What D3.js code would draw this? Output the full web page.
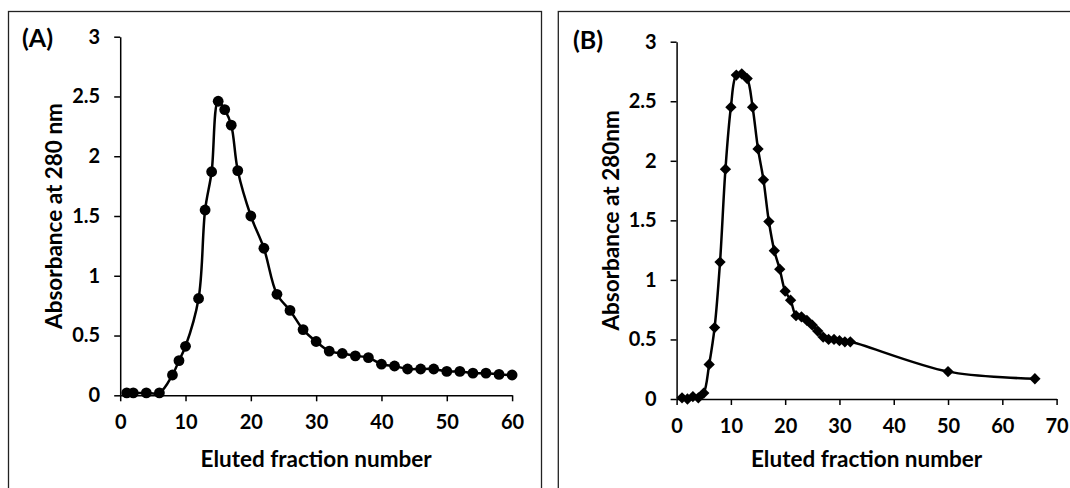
<!DOCTYPE html>
<html>
<head>
<meta charset="utf-8">
<script src="https://cdn.jsdelivr.net/npm/d3@7"></script>
<style>
  html, body { margin: 0; padding: 0; background: #fff; }
  svg text { font-family: Lato, "Open Sans", sans-serif; font-weight: bold; fill: #000; }
</style>
</head>
<body>
<div id="chart"></div>
<script>
// panel A data: fraction number vs absorbance
const fractionsA = [1, 2, 4, 6, 8, 9, 10, 12, 13, 14, 15, 16, 17, 18, 20, 22, 24, 26, 28, 30,
  32, 34, 36, 38, 40, 42, 44, 46, 48, 50, 52, 54, 56, 58, 60];
const absorbA = [0.02, 0.02, 0.02, 0.02, 0.17, 0.29, 0.41, 0.81, 1.55, 1.87, 2.46, 2.39, 2.26, 1.88, 1.5, 1.23, 0.845, 0.71, 0.55, 0.45,
  0.37, 0.35, 0.33, 0.315, 0.26, 0.245, 0.22, 0.22, 0.22, 0.2, 0.2, 0.185, 0.185, 0.175, 0.17];

// panel B data
const fractionsB = [1, 2, 3, 4, 5, 6, 7, 8, 9, 10, 11, 12, 13, 14, 15, 16, 17, 18, 19, 20,
  21, 22, 23, 24, 25, 26, 27, 28, 29, 30, 31, 32, 50, 66];
const absorbB = [0.01, 0.0, 0.02, 0.01, 0.05, 0.29, 0.6, 1.15, 1.93, 2.45, 2.72, 2.73, 2.69, 2.45, 2.1, 1.84, 1.49, 1.245, 1.09, 0.905,
  0.83, 0.7, 0.69, 0.66, 0.62, 0.57, 0.52, 0.5, 0.5, 0.49, 0.48, 0.48, 0.23, 0.17];

const yTicks = [0, 0.5, 1, 1.5, 2, 2.5, 3];
const xTicksA = [0, 10, 20, 30, 40, 50, 60];
const xTicksB = [0, 10, 20, 30, 40, 50, 60, 70];

const svg = d3.select("#chart").append("svg")
  .attr("width", 1070)
  .attr("height", 488);

function drawPanel(cfg) {
  // panel frame (bottom edge falls outside the picture)
  svg.append("rect")
    .attr("x", cfg.frame[0]).attr("y", cfg.frame[1])
    .attr("width", cfg.frame[2]).attr("height", cfg.frame[3])
    .attr("fill", "none")
    .attr("stroke", "#222")
    .attr("stroke-width", 1.3);

  const x = d3.scaleLinear().domain([0, cfg.xMax]).range([cfg.left, cfg.right]);
  const y = d3.scaleLinear().domain([0, 3]).range([cfg.bottom, cfg.top]);

  const gx = svg.append("g")
    .attr("transform", `translate(0,${cfg.bottom})`)
    .call(d3.axisBottom(x).tickValues(cfg.xTicks).tickSize(6).tickSizeOuter(0).tickFormat(d3.format("d")));
  gx.selectAll("text").attr("y", 20).style("font-size", "20px");

  const gy = svg.append("g")
    .attr("transform", `translate(${cfg.left},0)`)
    .call(d3.axisLeft(y).tickValues(yTicks).tickSize(6).tickSizeOuter(0).tickFormat(d => String(d)));
  gy.selectAll("text").attr("x", -20).style("font-size", "20px");

  [gx, gy].forEach(g => {
    g.select(".domain").attr("stroke", "#000").attr("stroke-width", 1.5);
    g.selectAll(".tick line").attr("stroke", "#000").attr("stroke-width", 1.5);
    g.attr("font-family", null).attr("font-size", null);
  });

  const pts = cfg.xs.map((d, i) => [d, cfg.ys[i]]);

  const line = d3.line()
    .x(d => x(d[0]))
    .y(d => y(d[1]))
    .curve(d3.curveCatmullRom.alpha(0.5));

  svg.append("path")
    .datum(pts)
    .attr("d", line)
    .attr("fill", "none")
    .attr("stroke", "#000")
    .attr("stroke-width", 2.5);

  if (cfg.marker === "circle") {
    svg.append("g").selectAll("circle")
      .data(pts).enter().append("circle")
      .attr("cx", d => x(d[0]))
      .attr("cy", d => y(d[1]))
      .attr("r", 5.4)
      .attr("fill", "#000");
  } else {
    const diamond = d3.symbol().type(d3.symbolSquare).size(64);
    svg.append("g").selectAll("path")
      .data(pts).enter().append("path")
      .attr("d", diamond)
      .attr("transform", d => `translate(${x(d[0])},${y(d[1])}) rotate(45)`)
      .attr("fill", "#000");
  }

  // panel letter
  svg.append("text")
    .attr("x", cfg.labelPos[0]).attr("y", cfg.labelPos[1])
    .style("font-size", "25px")
    .text(cfg.label);

  // axis titles
  svg.append("text")
    .attr("x", (cfg.left + cfg.right) / 2)
    .attr("y", 467)
    .attr("text-anchor", "middle")
    .style("font-size", "22.5px")
    .text("Eluted fraction number");

  svg.append("text")
    .attr("transform", `translate(${cfg.yTitleX},${(cfg.top + cfg.bottom) / 2}) rotate(-90)`)
    .attr("text-anchor", "middle")
    .style("font-size", "22.5px")
    .text(cfg.yTitle);
}

drawPanel({
  frame: [8.5, 11.5, 533, 500],
  left: 120.2, right: 512.1, top: 36.7, bottom: 395.3,
  xMax: 60, xTicks: xTicksA,
  xs: fractionsA, ys: absorbA,
  marker: "circle",
  label: "(A)", labelPos: [22, 47],
  yTitle: "Absorbance at 280 nm", yTitleX: 62
});

drawPanel({
  frame: [558.3, 11.5, 530, 500],
  left: 676.6, right: 1056.6, top: 41.7, bottom: 399,
  xMax: 70, xTicks: xTicksB,
  xs: fractionsB, ys: absorbB,
  marker: "diamond",
  label: "(B)", labelPos: [573, 49],
  yTitle: "Absorbance at 280nm", yTitleX: 619
});
</script>
</body>
</html>
